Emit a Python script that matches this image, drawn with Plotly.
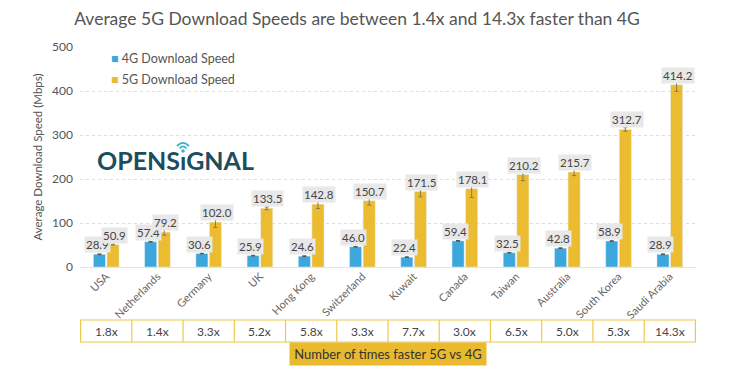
import plotly.graph_objects as go

countries = ["USA", "Netherlands", "Germany", "UK", "Hong Kong", "Switzerland",
             "Kuwait", "Canada", "Taiwan", "Australia", "South Korea", "Saudi Arabia"]
speed_4g = [28.9, 57.4, 30.6, 25.9, 24.6, 46.0, 22.4, 59.4, 32.5, 42.8, 58.9, 28.9]
speed_5g = [50.9, 79.2, 102.0, 133.5, 142.8, 150.7, 171.5, 178.1, 210.2, 215.7, 312.7, 414.2]
err_4g = [0.8] * 12
err_5g = [1.0, 7.0, 12.0, 3.0, 10.0, 10.0, 12.0, 20.0, 14.0, 8.0, 4.0, 15.0]
ratios = ["1.8x", "1.4x", "3.3x", "5.2x", "5.8x", "3.3x", "7.7x", "3.0x", "6.5x", "5.0x", "5.3x", "14.3x"]

BLUE = "#3ba7dd"
YELLOW = "#ebbb30"
FONT = "Lato, 'Open Sans', sans-serif"

OFF = 8  # page body margin
W, H = 734, 366
# plot area in screen pixels
SX0, SX1, SY0, SY1 = 80, 696, 47, 267
L, T = SX0 - OFF, SY0 - OFF
PW, PH = SX1 - SX0, SY1 - SY0
R, B = W - L - PW, H - T - PH


def px(x):
    return (x - SX0) / PW


def py(y):
    return (SY1 - y) / PH


fig = go.Figure()
fig.add_trace(go.Bar(x=countries, y=speed_4g, name="4G Download Speed", marker_color=BLUE,
                     error_y=dict(type="data", array=err_4g, color="#555", thickness=1, width=2)))
fig.add_trace(go.Bar(x=countries, y=speed_5g, name="5G Download Speed", marker_color=YELLOW,
                     error_y=dict(type="data", array=err_5g, color="#8a7a50", thickness=1, width=2)))

ann = []
for i, c in enumerate(countries):
    for vals, sh in ((speed_4g, -9), (speed_5g, 8)):
        ann.append(dict(x=c, y=vals[i], xref="x", yref="y", text=f"{vals[i]:.1f}",
                        showarrow=False, yanchor="bottom", xshift=sh, yshift=1,
                        bgcolor="#e8e8e8", borderpad=1,
                        font=dict(family=FONT, size=11.5, color="#444")))
    ann.append(dict(x=c, y=py(331), xref="x", yref="paper", text=ratios[i], showarrow=False,
                    xanchor="center", yanchor="middle",
                    font=dict(family=FONT, size=12, color="#444")))

shapes = [dict(type="rect", xref="x", yref="paper", x0=-0.5, x1=len(countries) - 0.5,
               y0=py(342), y1=py(320), line=dict(color="#ecc84a", width=1.2), fillcolor="white",
               layer="below")]
for i in range(1, len(countries)):
    shapes.append(dict(type="line", xref="x", yref="paper", x0=i - 0.5, x1=i - 0.5,
                       y0=py(342), y1=py(320), line=dict(color="#ecc84a", width=1.2)))

# footer label
ann.append(dict(x=px(388), y=py(354), xref="paper", yref="paper", text="Number of times faster 5G vs 4G",
                xanchor="center", yanchor="middle",
                showarrow=False, bgcolor="#e9b92e", width=192, height=18, borderpad=2,
                font=dict(family=FONT, size=13, color="#333")))

# legend as text
for label, col, yy in (("4G Download Speed", BLUE, 58), ("5G Download Speed", YELLOW, 79)):
    ann.append(dict(x=px(109), y=py(yy), xref="paper", yref="paper", xanchor="left", yanchor="middle",
                    text=f"<span style='color:{col}'>■</span> {label}", showarrow=False,
                    font=dict(family=FONT, size=12.5, color="#555")))

# logo
ann.append(dict(x=px(95), y=py(160), xref="paper", yref="paper", xanchor="left", yanchor="middle",
                text="<b>OPENSıGNAL</b>", showarrow=False,
                font=dict(family=FONT, size=25, color="#1e4d5e")))
ix, iy = 183, 151
CY = "#3ab3cc"
shapes.append(dict(type="circle", xref="paper", yref="paper", x0=px(ix - 1.8), x1=px(ix + 1.8),
                   y0=py(iy + 1.8), y1=py(iy - 1.8), fillcolor=CY, line=dict(width=0)))
for r in (4.5, 8.0):
    shapes.append(dict(type="path", xref="paper", yref="paper",
                       path=f"M {px(ix - 0.75 * r)} {py(iy - 0.6 * r)} Q {px(ix)} {py(iy - 1.45 * r)} {px(ix + 0.75 * r)} {py(iy - 0.6 * r)}",
                       line=dict(color=CY, width=1.8)))

fig.update_layout(
    width=W, height=H,
    margin=dict(l=L, r=R, t=T, b=B, autoexpand=False),
    paper_bgcolor="white", plot_bgcolor="white",
    font=dict(family=FONT, color="#555"),
    showlegend=False,
    title=dict(text="Average 5G Download Speeds are between 1.4x and 14.3x faster than 4G",
               x=(357 - OFF) / W, xanchor="center", y=1 - (19 - OFF) / H, yanchor="middle",
               font=dict(family=FONT, size=17.5, color="#555")),
    barmode="group", bargap=0.47, bargroupgap=0.11,
    xaxis=dict(tickangle=-45, tickfont=dict(family=FONT, size=11, color="#666"),
               showgrid=False, showline=False, ticks="", automargin=False),
    yaxis=dict(range=[0, 500], dtick=100, showgrid=True, gridcolor="#dddddd", griddash="dot",
               zeroline=True, zerolinecolor="#e3e3e3", zerolinewidth=1, automargin=False,
               tickfont=dict(family=FONT, size=12, color="#555"), ticksuffix="  ",
               title=dict(text="Average Download Speed (Mbps)", standoff=6,
                          font=dict(family=FONT, size=11.5, color="#555"))),
    annotations=ann, shapes=shapes,
)

fig.write_html("out.html")
